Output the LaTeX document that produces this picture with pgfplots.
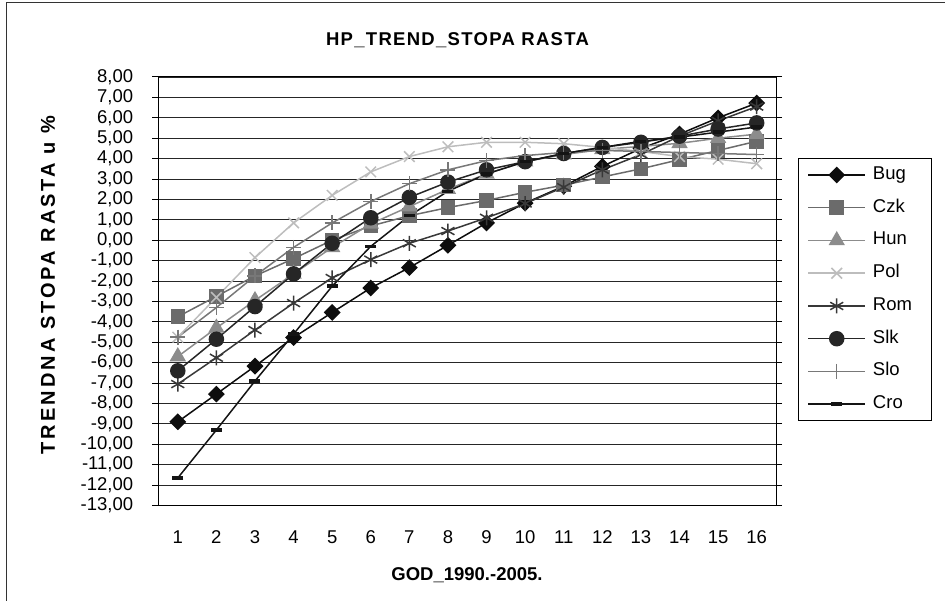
\documentclass[border=0pt]{standalone}
\usepackage{fontspec}
\setmainfont{Liberation Sans}
\setsansfont{Liberation Sans}
\usepackage{pgfplots}
\pgfplotsset{compat=1.18}
\definecolor{cBug}{gray}{0.05}
\definecolor{cCzk}{gray}{0.42}
\definecolor{cHun}{gray}{0.55}
\definecolor{cPol}{gray}{0.74}
\definecolor{cRom}{gray}{0.22}
\definecolor{cSlk}{gray}{0.15}
\definecolor{cSlo}{gray}{0.47}
\definecolor{cCro}{gray}{0.08}
\newcommand{\fs}{\fontsize{18.5}{22}\selectfont}
\begin{document}
\fs
\begin{tikzpicture}
\useasboundingbox (-158.5pt,-95.5pt) rectangle (786.5pt,505.5pt);
\draw[line width=1.5pt, black!80] (-152pt,-95.5pt) -- (-152pt,503pt) -- (786.5pt,503pt);
\begin{axis}[
  scale only axis, width=617.5pt, height=428.5pt,
  xmin=0.5, xmax=16.5, ymin=-13, ymax=8,
  xtick={1,...,16}, ytick={-13,-12,...,8},
  ymajorgrids, grid style={black!85, line width=0.9pt},
  axis line style={black, line width=1pt},
  tick align=outside, major tick length=6pt,
  xtick style={draw=none}, ytick style={black, line width=1pt},
  every tick label/.append style={font=\fs},
  /pgf/number format/assume math mode=true,
  yticklabel style={xshift=-13pt, /pgf/number format/.cd, fixed, fixed zerofill, precision=2, use comma},
  xticklabel style={yshift=-13pt},
  legend style={at={(1.0356,0.811)}, anchor=north west, draw=black, line width=1pt, fill=white,
    font=\fs, inner xsep=9pt, inner ysep=8pt, row sep=15.75pt,
    nodes={inner sep=0pt, text height=13pt, text depth=4pt, text width=50pt, align=left},
    /tikz/every odd column/.append style={column sep=7pt}},
  legend cell align=left,
  legend image code/.code={\draw[mark repeat=2,mark phase=2,#1] plot coordinates {(0pt,0pt) (28.5pt,0pt) (57pt,0pt)};},
]
\addplot[color=cBug, line width=1.5pt, mark=square*, mark size=5.2pt, mark options={rotate=45, solid}] coordinates {
(1,-8.9) (2,-7.54) (3,-6.17) (4,-4.77) (5,-3.54) (6,-2.34) (7,-1.34) (8,-0.25) (9,0.85) (10,1.82) (11,2.65) (12,3.62) (13,4.5) (14,5.2) (15,6.0) (16,6.72)};
\addplot[color=cCzk, line width=1.5pt, mark=square*, mark size=6.5pt, mark options={solid}] coordinates {
(1,-3.75) (2,-2.75) (3,-1.75) (4,-0.9) (5,0.0) (6,0.7) (7,1.2) (8,1.6) (9,1.95) (10,2.35) (11,2.7) (12,3.1) (13,3.5) (14,3.95) (15,4.4) (16,4.85)};
\addplot[color=cHun, line width=1.5pt, mark=triangle*, mark size=8pt, mark options={solid}] coordinates {
(1,-5.7) (2,-4.3) (3,-2.95) (4,-1.65) (5,-0.35) (6,0.8) (7,1.65) (8,2.5) (9,3.25) (10,3.85) (11,4.2) (12,4.45) (13,4.6) (14,4.75) (15,5.0) (16,5.2)};
\addplot[color=cPol, line width=1.5pt, mark=x, mark size=7.5pt, mark options={solid}] coordinates {
(1,-4.75) (2,-2.8) (3,-0.85) (4,0.85) (5,2.2) (6,3.35) (7,4.1) (8,4.58) (9,4.8) (10,4.8) (11,4.73) (12,4.55) (13,4.35) (14,4.1) (15,3.97) (16,3.75)};
\addplot[color=cRom, line width=1.5pt, mark=asterisk, mark size=7.5pt, mark options={solid}] coordinates {
(1,-7.05) (2,-5.76) (3,-4.4) (4,-3.08) (5,-1.85) (6,-0.95) (7,-0.15) (8,0.45) (9,1.1) (10,1.8) (11,2.6) (12,3.45) (13,4.2) (14,5.1) (15,5.85) (16,6.55)};
\addplot[color=cSlk, line width=1.5pt, mark=*, mark size=7pt, mark options={solid}] coordinates {
(1,-6.4) (2,-4.85) (3,-3.25) (4,-1.65) (5,-0.15) (6,1.1) (7,2.1) (8,2.85) (9,3.45) (10,3.85) (11,4.25) (12,4.55) (13,4.8) (14,5.1) (15,5.45) (16,5.75)};
\addplot[color=cSlo, line width=1.5pt, mark=+, mark size=7.5pt, mark options={solid}] coordinates {
(1,-4.75) (2,-3.3) (3,-1.75) (4,-0.35) (5,0.85) (6,1.9) (7,2.77) (8,3.45) (9,3.9) (10,4.15) (11,4.3) (12,4.4) (13,4.35) (14,4.3) (15,4.25) (16,4.2)};
\addplot[color=cCro, line width=1.5pt, mark=-, mark size=5.5pt, mark options={solid, line width=3.5pt}] coordinates {
(1,-11.65) (2,-9.3) (3,-6.9) (4,-4.6) (5,-2.25) (6,-0.3) (7,1.2) (8,2.4) (9,3.25) (10,3.85) (11,4.25) (12,4.55) (13,4.85) (14,5.05) (15,5.3) (16,5.55)};
\legend{Bug,Czk,Hun,Pol,Rom,Slk,Slo,Cro}
\end{axis}
\node[font=\bfseries\fs\addfontfeature{LetterSpace=7}] at (299pt,465.5pt) {HP\_TREND\_STOPA RASTA};
\node[rotate=90, font=\bfseries\fontsize{20}{24}\selectfont\addfontfeature{LetterSpace=15}] at (-110.5pt,220.5pt) {TRENDNA STOPA RASTA u \%};
\node[font=\bfseries\fs] at (308.5pt,-69.5pt) {GOD\_1990.-2005.};
\end{tikzpicture}
\end{document}
